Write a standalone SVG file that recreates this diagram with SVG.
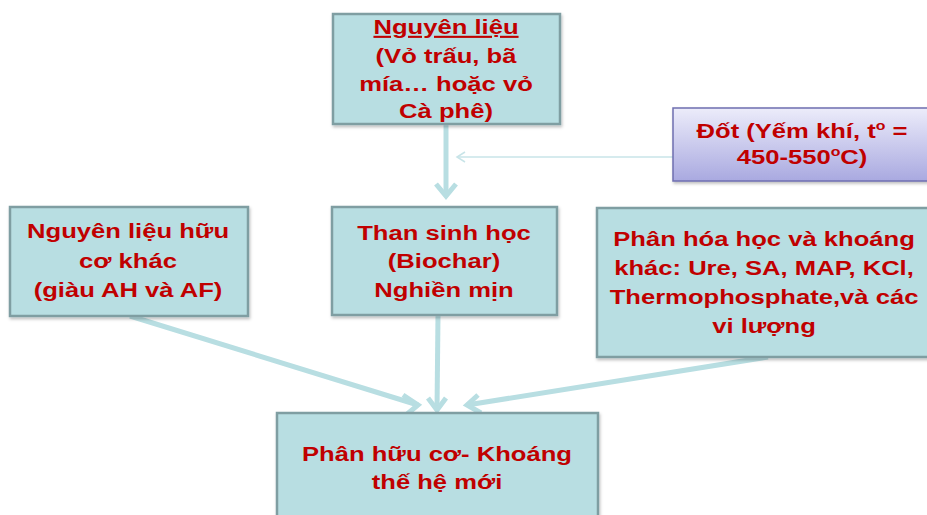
<svg xmlns="http://www.w3.org/2000/svg" width="927" height="515" viewBox="0 0 927 515">
<style>
.box{fill:#b8dee2;stroke:#7f9ea2;stroke-width:2.5}
.t{font-family:"Liberation Sans",Arial,sans-serif;font-weight:bold;font-size:21px;fill:#c00000;text-anchor:middle}
.con{stroke:#b8dee2;stroke-width:5;fill:none}
</style>
<defs>
<linearGradient id="lav" x1="0" y1="0" x2="0" y2="1">
<stop offset="0" stop-color="#ececfa"/>
<stop offset="1" stop-color="#a9a9e0"/>
</linearGradient>
<filter id="sh" x="-10%" y="-10%" width="120%" height="130%">
<feDropShadow dx="1" dy="2" stdDeviation="1.5" flood-color="#000" flood-opacity="0.25"/>
</filter>
</defs>
<g id="connectors">
<line class="con" x1="446" y1="124" x2="446" y2="196"/>
<polyline class="con" points="436,184 446,196 456,184"/>
<line x1="673" y1="157" x2="458" y2="157" stroke="#c8e4e8" stroke-width="1.5"/>
<polyline points="465,152 457,157 465,162" stroke="#c8e4e8" stroke-width="1.5" fill="none"/>
<line class="con" x1="130" y1="316" x2="418" y2="405"/>
<polyline class="con" points="403,395 418,405 406,415"/>
<line class="con" x1="438" y1="315" x2="437" y2="410"/>
<polyline class="con" points="428,398 437,410 446,398"/>
<line class="con" x1="768" y1="357" x2="467" y2="405"/>
<polyline class="con" points="478,395 467,405 481,413"/>
</g>
<g id="nguyen-lieu">
<rect class="box" x="333" y="14" width="227" height="110" filter="url(#sh)"/>
<g transform="translate(446 0) scale(1.22 1)">
<text class="t" x="0" y="34" text-decoration="underline">Nguyên liệu</text>
<text class="t" x="0" y="63">(Vỏ trấu, bã</text>
<text class="t" x="0" y="91">mía… hoặc vỏ</text>
<text class="t" x="0" y="118">Cà phê)</text>
</g>
</g>
<g id="dot">
<rect x="673" y="108" width="262" height="73" fill="url(#lav)" stroke="#6f6fb0" stroke-width="1.5" filter="url(#sh)"/>
<g transform="translate(802 0) scale(1.22 1)">
<text class="t" x="0" y="138">Đốt (Yếm khí, t<tspan font-size="13" dy="-8">o</tspan><tspan dy="8"> =</tspan></text>
<text class="t" x="0" y="164">450-550<tspan font-size="13" dy="-8">o</tspan><tspan dy="8">C)</tspan></text>
</g>
</g>
<g id="nguyen-lieu-huu-co">
<rect class="box" x="10" y="207" width="238" height="109" filter="url(#sh)"/>
<g transform="translate(128 0) scale(1.22 1)">
<text class="t" x="0" y="238">Nguyên liệu hữu</text>
<text class="t" x="0" y="268">cơ khác</text>
<text class="t" x="0" y="297">(giàu AH và AF)</text>
</g>
</g>
<g id="than-sinh-hoc">
<rect class="box" x="332" y="207" width="225" height="108" filter="url(#sh)"/>
<g transform="translate(444 0) scale(1.22 1)">
<text class="t" x="0" y="240">Than sinh học</text>
<text class="t" x="0" y="268">(Biochar)</text>
<text class="t" x="0" y="297">Nghiền mịn</text>
</g>
</g>
<g id="phan-hoa-hoc">
<rect class="box" x="597" y="208" width="340" height="149" filter="url(#sh)"/>
<g transform="translate(764 0) scale(1.22 1)">
<text class="t" x="0" y="246">Phân hóa học và khoáng</text>
<text class="t" x="0" y="275">khác: Ure, SA, MAP, KCl,</text>
<text class="t" x="0" y="304">Thermophosphate,và các</text>
<text class="t" x="0" y="333">vi lượng</text>
</g>
</g>
<g id="phan-huu-co-khoang">
<rect class="box" x="277" y="413" width="321" height="120" filter="url(#sh)"/>
<g transform="translate(437 0) scale(1.22 1)">
<text class="t" x="0" y="461">Phân hữu cơ- Khoáng</text>
<text class="t" x="0" y="489">thế hệ mới</text>
</g>
</g>
</svg>
